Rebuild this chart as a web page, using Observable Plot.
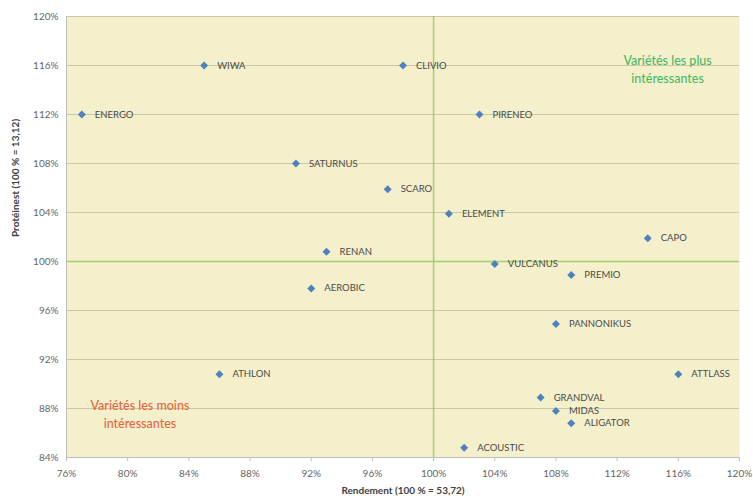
<!DOCTYPE html>
<html><head><meta charset="utf-8">
<script src="https://cdn.jsdelivr.net/npm/d3@7"></script>
<script src="https://cdn.jsdelivr.net/npm/@observablehq/plot@0.6"></script>
<style>body{margin:0;background:#fff;font-family:Lato,"Open Sans",sans-serif}</style>
</head><body><div id="chart"></div>
<script>
const varieties = ["WIWA","ENERGO","CLIVIO","PIRENEO","SATURNUS","SCARO","ELEMENT","RENAN","CAPO","VULCANUS","PREMIO","AEROBIC","PANNONIKUS","ATHLON","ATTLASS","GRANDVAL","MIDAS","ALIGATOR","ACOUSTIC"];
const rendement = [85,77,98,103,91,97,101,93,114,104,109,92,108,86,116,107,108,109,102];
const proteines = [116,112,116,112,108,105.9,103.9,100.8,101.9,99.8,98.9,97.8,94.9,90.8,90.8,88.9,87.8,86.8,84.8];
const xTicks = [76,80,84,88,92,96,100,104,108,112,116,120];
const yTicks = [84,88,92,96,100,104,108,112,116,120];
const xTitle = "Rendement (100 % = 53,72)";
const yTitle = "Protéinest (100 % = 13,12)";
const zoneText = ["Variétés les plus\nintéressantes","Variétés les moins\nintéressantes"];
const zoneX = [115.3, 80.8];
const zoneY = [115.8, 87.6];
const zoneColor = ["#4cb866","#e8653f"];

const pts = varieties.map((v,i)=>({name:v, x:rendement[i], y:proteines[i]}));
const zones = zoneText.map((t,i)=>({t, x:zoneX[i], y:zoneY[i], c:zoneColor[i]}));

const chart = Plot.plot({
  width: 753, height: 500,
  marginLeft: 66, marginRight: 14, marginTop: 16, marginBottom: 43,
  style: {fontFamily: "Lato, 'Open Sans', sans-serif", fontSize: "10px", background: "#fff"},
  x: {domain: [76,120], ticks: xTicks, tickFormat: d => d + "%"},
  y: {domain: [84,120], ticks: yTicks, tickFormat: d => d + "%"},
  marks: [
    Plot.frame({fill: "#f4f0cc", stroke: null}),
    Plot.gridY(yTicks, {stroke: "#cbc7a3", strokeOpacity: 1}),
    Plot.ruleX([100], {stroke: "#9fd06e", strokeWidth: 1.5}),
    Plot.ruleY([100], {stroke: "#9fd06e", strokeWidth: 1.5}),
    Plot.ruleX([76], {stroke: "#bdbdbd"}),
    Plot.ruleY([84], {stroke: "#bdbdbd"}),
    Plot.axisX({ticks: xTicks, tickFormat: d => d + "%", tickSize: 4, tickPadding: 8, stroke: "#bdbdbd", color: "#666666", label: null}),
    Plot.axisY({ticks: yTicks, tickFormat: d => d + "%", tickSize: 0, tickPadding: 8, color: "#666666", label: null}),
    Plot.dot(pts, {x: "x", y: "y", symbol: "diamond2", r: 3.6, fill: "#4f81bd", stroke: "none"}),
    Plot.text(pts, {x: "x", y: "y", text: "name", textAnchor: "start", dx: 13, fontSize: 9.5, fill: "#4a4a4a", style: "letter-spacing:0.3px"}),
    Plot.text(zones, {x: "x", y: "y", text: "t", fill: "c", fontSize: 12.5, fontWeight: 500, lineHeight: 1.45, textAnchor: "middle"}),
    Plot.text([xTitle], {frameAnchor: "bottom", dy: 36, text: d => d, fontWeight: "bold", fontSize: 10, fill: "#404040"}),
    Plot.text([yTitle], {frameAnchor: "left", dx: -51, rotate: -90, text: d => d, fontWeight: "bold", fontSize: 10, fill: "#404040"})
  ]
});
document.getElementById("chart").appendChild(chart);
</script>
</body></html>
